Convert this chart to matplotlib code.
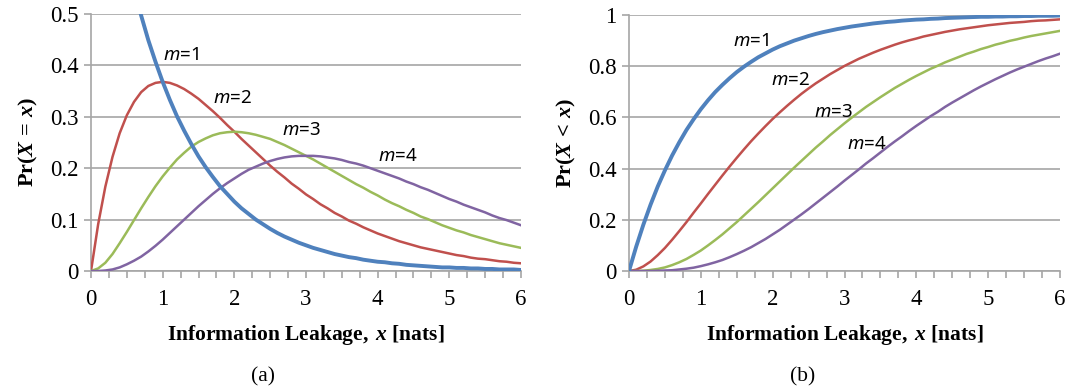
import matplotlib
matplotlib.use("Agg")
import matplotlib.pyplot as plt
from matplotlib.ticker import MultipleLocator

plt.rcParams['font.family'] = ['Liberation Serif', 'DejaVu Serif']
plt.rcParams['mathtext.fontset'] = 'custom'
plt.rcParams['mathtext.rm'] = 'Liberation Serif'
plt.rcParams['mathtext.bf'] = 'Liberation Serif:bold'
plt.rcParams['mathtext.it'] = 'Liberation Serif:italic'
plt.rcParams['mathtext.bfit'] = 'Liberation Serif:italic:bold'
plt.rcParams['mathtext.sf'] = 'Noto Sans:italic'

# x samples (nats), step 0.1
x = [0.0, 0.1, 0.2, 0.3, 0.4, 0.5, 0.6, 0.7, 0.8, 0.9,
     1.0, 1.1, 1.2, 1.3, 1.4, 1.5, 1.6, 1.7, 1.8, 1.9,
     2.0, 2.1, 2.2, 2.3, 2.4, 2.5, 2.6, 2.7, 2.8, 2.9,
     3.0, 3.1, 3.2, 3.3, 3.4, 3.5, 3.6, 3.7, 3.8, 3.9,
     4.0, 4.1, 4.2, 4.3, 4.4, 4.5, 4.6, 4.7, 4.8, 4.9,
     5.0, 5.1, 5.2, 5.3, 5.4, 5.5, 5.6, 5.7, 5.8, 5.9, 6.0]

# panel (a): Pr(X = x)
pdf_m1 = [1.000, 0.905, 0.819, 0.741, 0.670, 0.607, 0.549, 0.497, 0.449, 0.407,
          0.368, 0.333, 0.301, 0.273, 0.247, 0.223, 0.202, 0.183, 0.165, 0.150,
          0.135, 0.122, 0.111, 0.100, 0.091, 0.082, 0.074, 0.067, 0.061, 0.055,
          0.050, 0.045, 0.041, 0.037, 0.033, 0.030, 0.027, 0.025, 0.022, 0.020,
          0.018, 0.017, 0.015, 0.014, 0.012, 0.011, 0.010, 0.009, 0.008, 0.007,
          0.007, 0.006, 0.006, 0.005, 0.005, 0.004, 0.004, 0.003, 0.003, 0.003, 0.002]
pdf_m2 = [0.000, 0.091, 0.164, 0.222, 0.268, 0.303, 0.329, 0.348, 0.360, 0.366,
          0.368, 0.366, 0.361, 0.354, 0.345, 0.335, 0.323, 0.311, 0.298, 0.284,
          0.271, 0.257, 0.244, 0.231, 0.218, 0.205, 0.193, 0.182, 0.170, 0.160,
          0.149, 0.140, 0.130, 0.122, 0.113, 0.106, 0.098, 0.092, 0.085, 0.079,
          0.073, 0.068, 0.063, 0.058, 0.054, 0.050, 0.046, 0.043, 0.040, 0.037,
          0.034, 0.031, 0.029, 0.026, 0.024, 0.023, 0.021, 0.019, 0.018, 0.016, 0.015]
pdf_m3 = [0.000, 0.005, 0.016, 0.033, 0.054, 0.076, 0.099, 0.122, 0.144, 0.165,
          0.184, 0.201, 0.217, 0.230, 0.242, 0.251, 0.258, 0.264, 0.268, 0.270,
          0.271, 0.270, 0.268, 0.265, 0.261, 0.257, 0.251, 0.245, 0.238, 0.231,
          0.224, 0.217, 0.209, 0.201, 0.193, 0.185, 0.177, 0.169, 0.162, 0.154,
          0.147, 0.139, 0.132, 0.126, 0.119, 0.113, 0.106, 0.101, 0.095, 0.089,
          0.084, 0.079, 0.075, 0.070, 0.066, 0.062, 0.058, 0.054, 0.051, 0.048, 0.045]
pdf_m4 = [0.000, 0.000, 0.001, 0.003, 0.007, 0.013, 0.020, 0.028, 0.038, 0.049,
          0.061, 0.074, 0.087, 0.100, 0.113, 0.126, 0.138, 0.150, 0.161, 0.171,
          0.180, 0.189, 0.197, 0.203, 0.209, 0.214, 0.218, 0.221, 0.223, 0.224,
          0.224, 0.224, 0.223, 0.221, 0.219, 0.216, 0.212, 0.209, 0.205, 0.200,
          0.195, 0.190, 0.185, 0.180, 0.174, 0.169, 0.163, 0.158, 0.152, 0.146,
          0.140, 0.135, 0.129, 0.124, 0.119, 0.114, 0.108, 0.103, 0.099, 0.094, 0.089]

# panel (b): Pr(X < x)
cdf_m1 = [0.000, 0.095, 0.181, 0.259, 0.330, 0.393, 0.451, 0.503, 0.551, 0.593,
          0.632, 0.667, 0.699, 0.727, 0.753, 0.777, 0.798, 0.817, 0.835, 0.850,
          0.865, 0.878, 0.889, 0.900, 0.909, 0.918, 0.926, 0.933, 0.939, 0.945,
          0.950, 0.955, 0.959, 0.963, 0.967, 0.970, 0.973, 0.975, 0.978, 0.980,
          0.982, 0.983, 0.985, 0.986, 0.988, 0.989, 0.990, 0.991, 0.992, 0.993,
          0.993, 0.994, 0.994, 0.995, 0.995, 0.996, 0.996, 0.997, 0.997, 0.997, 0.998]
cdf_m2 = [0.000, 0.005, 0.018, 0.037, 0.062, 0.090, 0.122, 0.156, 0.191, 0.228,
          0.264, 0.301, 0.337, 0.373, 0.408, 0.442, 0.475, 0.507, 0.537, 0.566,
          0.594, 0.620, 0.645, 0.669, 0.692, 0.713, 0.733, 0.751, 0.769, 0.785,
          0.801, 0.815, 0.829, 0.841, 0.853, 0.864, 0.874, 0.884, 0.893, 0.901,
          0.908, 0.916, 0.922, 0.928, 0.934, 0.939, 0.944, 0.948, 0.952, 0.956,
          0.960, 0.963, 0.966, 0.969, 0.971, 0.973, 0.976, 0.978, 0.979, 0.981, 0.983]
cdf_m3 = [0.000, 0.000, 0.001, 0.004, 0.008, 0.014, 0.023, 0.034, 0.047, 0.063,
          0.080, 0.100, 0.121, 0.143, 0.167, 0.191, 0.217, 0.243, 0.269, 0.296,
          0.323, 0.350, 0.377, 0.404, 0.430, 0.456, 0.482, 0.506, 0.531, 0.554,
          0.577, 0.599, 0.620, 0.641, 0.660, 0.679, 0.697, 0.715, 0.731, 0.747,
          0.762, 0.776, 0.790, 0.802, 0.815, 0.826, 0.837, 0.848, 0.857, 0.867,
          0.875, 0.884, 0.891, 0.899, 0.905, 0.912, 0.918, 0.923, 0.928, 0.933, 0.938]
cdf_m4 = [0.000, 0.000, 0.000, 0.000, 0.001, 0.002, 0.003, 0.006, 0.009, 0.013,
          0.019, 0.026, 0.034, 0.043, 0.054, 0.066, 0.079, 0.093, 0.109, 0.125,
          0.143, 0.161, 0.181, 0.201, 0.221, 0.242, 0.264, 0.286, 0.308, 0.330,
          0.353, 0.375, 0.397, 0.420, 0.441, 0.463, 0.485, 0.506, 0.526, 0.547,
          0.567, 0.586, 0.605, 0.622, 0.641, 0.658, 0.674, 0.690, 0.706, 0.721,
          0.735, 0.749, 0.762, 0.775, 0.787, 0.798, 0.809, 0.820, 0.830, 0.839, 0.849]

series_labels = [r'$\mathsf{m}$=1', r'$\mathsf{m}$=2', r'$\mathsf{m}$=3', r'$\mathsf{m}$=4']
x_ticks = [0, 1, 2, 3, 4, 5, 6]
yticks_a = [0, 0.1, 0.2, 0.3, 0.4, 0.5]
ytick_labels_a = ['0', '0.1', '0.2', '0.3', '0.4', '0.5']
yticks_b = [0, 0.2, 0.4, 0.6, 0.8, 1.0]
ytick_labels_b = ['0', '0.2', '0.4', '0.6', '0.8', '1']

colors = ['#4F81BD', '#C0504D', '#9BBB59', '#8064A2']
widths = [2.8, 1.8, 1.8, 1.8]
grid_c = '#A6A6A6'

fig = plt.figure(figsize=(10.68, 3.89), dpi=100)
axA = fig.add_axes([91/1068, 1-271/389, 430/1068, 257/389])
axB = fig.add_axes([629/1068, 1-271/389, 431/1068, 256/389])


def style(ax, yticks, ylabels, ymax):
    ax.set_xlim(0, 6)
    ax.set_ylim(0, ymax)
    ax.set_xticks(x_ticks)
    ax.set_xticklabels([str(t) for t in x_ticks])
    ax.xaxis.set_minor_locator(MultipleLocator(0.25))
    ax.set_yticks(yticks)
    ax.set_yticklabels(ylabels)
    for s in ['top', 'right']:
        ax.spines[s].set_visible(False)
    for s in ['left', 'bottom']:
        ax.spines[s].set_color(grid_c)
        ax.spines[s].set_linewidth(1.2)
    ax.yaxis.grid(True, color=grid_c, linewidth=1.2)
    ax.set_axisbelow(True)
    ax.tick_params(axis='both', which='major', direction='out', length=5,
                   width=1.2, color=grid_c, labelsize=16.5, pad=4)
    ax.tick_params(axis='x', which='minor', direction='out', length=5,
                   width=1.2, color=grid_c)
    ax.tick_params(axis='x', which='major', pad=8)
    ax.set_xlabel(r'$\mathbf{Information\ Leakage,}\ \mathbfit{x}\ \mathbf{[nats]}$',
                  fontsize=15.5, labelpad=9)
    ax.patch.set_alpha(0)


pdfs = [pdf_m1, pdf_m2, pdf_m3, pdf_m4]
cdfs = [cdf_m1, cdf_m2, cdf_m3, cdf_m4]
for i in range(4):
    axA.plot(x, pdfs[i], color=colors[i], lw=widths[i], zorder=3 + (i == 0),
             solid_joinstyle='round')
    axB.plot(x, cdfs[i], color=colors[i], lw=widths[i], zorder=3 + (i == 0),
             solid_joinstyle='round')

style(axA, yticks_a, ytick_labels_a, 0.5)
style(axB, yticks_b, ytick_labels_b, 1.0)
axA.set_ylabel(r'$\mathbf{Pr(}\mathbfit{X}\,\mathbf{=}\,\mathbfit{x}\mathbf{)}$', fontsize=16, labelpad=7)
axB.set_ylabel(r'$\mathbf{Pr(}\mathbfit{X}\,\mathbf{<}\,\mathbfit{x}\mathbf{)}$', fontsize=16, labelpad=7)

ann_a = [(1.0, 0.42), (1.70, 0.337), (2.67, 0.274), (4.0, 0.224)]
ann_b = [(1.45, 0.90), (1.98, 0.746), (2.57, 0.621), (3.03, 0.496)]
for i in range(4):
    axA.text(ann_a[i][0], ann_a[i][1], series_labels[i], fontsize=13.5,
             family=['Noto Sans', 'DejaVu Sans'], ha='left', va='center', zorder=6)
    axB.text(ann_b[i][0], ann_b[i][1], series_labels[i], fontsize=13.5,
             family=['Noto Sans', 'DejaVu Sans'], ha='left', va='center', zorder=6)

fig.text(263/1068, 1-377/389, '(a)', fontsize=15.5, ha='center', va='center')
fig.text(803/1068, 1-377/389, '(b)', fontsize=15.5, ha='center', va='center')

fig.savefig('out.png', dpi=100)
